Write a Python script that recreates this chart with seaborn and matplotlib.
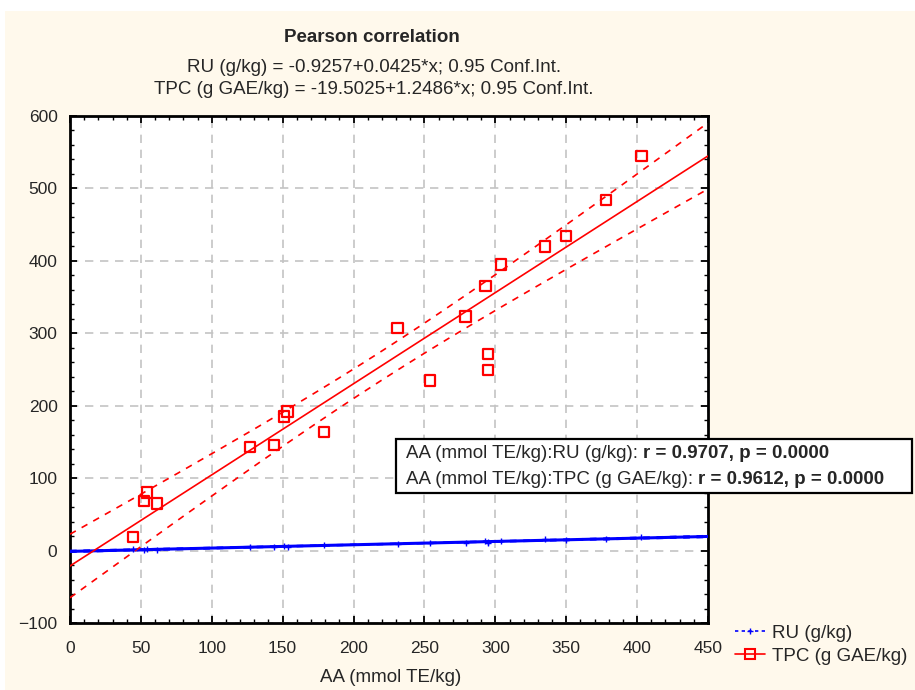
import numpy as np
import pandas as pd
import matplotlib
matplotlib.use("Agg")
import matplotlib.pyplot as plt
import seaborn as sns
from matplotlib.patches import Rectangle
from matplotlib.lines import Line2D
from matplotlib.ticker import MultipleLocator

# ---- data ----
aa = [44.6, 52, 54.5, 61.5, 127, 144, 150.7, 153.5, 179, 231,
      254, 279, 293, 295, 295, 304, 335, 350, 378, 403]
tpc = [19, 68, 80, 65, 143, 146, 185, 192, 164, 307,
       235, 323, 365, 271, 249, 395, 420, 434, 484, 545]
ru = [2.0, 0.5, 2.0, 1.0, 5.5, 4.5, 6.5, 5.0, 8.0, 9.5,
      11.0, 10.5, 13.0, 10.0, 11.5, 13.0, 15.5, 14.0, 16.0, 19.0]

title = "Pearson correlation"
eq_ru = "RU (g/kg) = -0.9257+0.0425*x; 0.95 Conf.Int."
eq_tpc = "TPC (g GAE/kg) = -19.5025+1.2486*x; 0.95 Conf.Int."
corr_lines = [("AA (mmol TE/kg):RU (g/kg): ", "r = 0.9707, p = 0.0000"),
              ("AA (mmol TE/kg):TPC (g GAE/kg): ", "r = 0.9612, p = 0.0000")]
xlabel = "AA (mmol TE/kg)"
series_labels = ["RU (g/kg)", "TPC (g GAE/kg)"]

df = pd.DataFrame({"AA": aa, "TPC": tpc, "RU": ru})

sns.set_style("ticks")
plt.rcParams["font.family"] = ["Liberation Sans", "DejaVu Sans"]

FS = 13.5
cream = "#fff9ec"
fig = plt.figure(figsize=(9.15, 6.9), dpi=100, facecolor="white")
fig.patches.append(Rectangle((5 / 915, 0), 1, 1 - 11 / 690, transform=fig.transFigure,
                             facecolor=cream, edgecolor="none", zorder=-10))
ax = fig.add_axes([70 / 915, 1 - 623 / 690, (708 - 70) / 915, (623 - 116) / 690])
ax.set_facecolor("white")


def fit_band(x, y, grid, t=2.101):
    x = np.asarray(x, float); y = np.asarray(y, float)
    b, a = np.polyfit(x, y, 1)
    n = len(x)
    res = y - (a + b * x)
    s = np.sqrt(np.sum(res ** 2) / (n - 2))
    sxx = np.sum((x - x.mean()) ** 2)
    se = s * np.sqrt(1 / n + (grid - x.mean()) ** 2 / sxx)
    yhat = a + b * grid
    return yhat, yhat - t * se, yhat + t * se


grid = np.linspace(0, 450, 200)
for col, color, lw in [("RU", "#0000ff", 2.2), ("TPC", "#ff0000", 1.2)]:
    yhat, lo, hi = fit_band(df["AA"], df[col], grid)
    sns.lineplot(x=grid, y=yhat, ax=ax, color=color, lw=lw, zorder=3)
    sns.lineplot(x=grid, y=lo, ax=ax, color=color, lw=1.2, ls=(0, (4, 4)), zorder=3)
    sns.lineplot(x=grid, y=hi, ax=ax, color=color, lw=1.2, ls=(0, (4, 4)), zorder=3)

sns.scatterplot(data=df, x="AA", y="RU", ax=ax, marker="+", s=14, color="#0000ff",
                linewidth=1.0, zorder=4)
sns.scatterplot(data=df, x="AA", y="TPC", ax=ax, marker="s", s=55, facecolor="none",
                edgecolor="#ff0000", linewidth=1.6, zorder=4)

ax.set_xlim(0, 450)
ax.set_ylim(-100, 600)
ax.xaxis.set_major_locator(MultipleLocator(50))
ax.xaxis.set_minor_locator(MultipleLocator(10))
ax.yaxis.set_major_locator(MultipleLocator(100))
ax.yaxis.set_minor_locator(MultipleLocator(20))
ax.tick_params(which="both", direction="in", top=True, right=True, color="black")
ax.tick_params(which="major", length=5, width=1.3, labelsize=12.5)
ax.tick_params(axis="x", which="major", pad=13)
ax.tick_params(axis="y", which="major", pad=9)
ax.tick_params(which="minor", length=3, width=1.0)
ax.grid(True, which="major", ls=(0, (5, 4)), color="#c4c4c4", lw=1.2)
ax.set_axisbelow(True)
for sp in ax.spines.values():
    sp.set_linewidth(2)
    sp.set_color("black")
ax.set_xlabel("")
ax.set_ylabel("")

fig.text(372 / 915, 1 - 37 / 690, title, ha="center", va="center", fontsize=FS, fontweight="bold")
fig.text(374 / 915, 1 - 67 / 690, eq_ru, ha="center", va="center", fontsize=FS)
fig.text(374 / 915, 1 - 89 / 690, eq_tpc, ha="center", va="center", fontsize=FS)
fig.text(391 / 915, 1 - 678 / 690, xlabel, ha="center", va="center", fontsize=FS)

# correlation box
fig.patches.append(Rectangle((396 / 915, 1 - 493 / 690), (912 - 396) / 915, (493 - 439) / 690,
                             transform=fig.transFigure, facecolor="white", edgecolor="black",
                             lw=1.6, zorder=20))
for i, (norm, bold) in enumerate(corr_lines):
    ypos = 1 - (453 + i * 26) / 690
    t1 = fig.text(406 / 915, ypos, norm, ha="left", va="center", fontsize=FS, zorder=21)
    fig.canvas.draw()
    bb = t1.get_window_extent()
    x1 = bb.x1 / fig.bbox.width
    fig.text(x1, ypos, bold, ha="left", va="center", fontsize=FS, fontweight="bold", zorder=21)

handles = [Line2D([], [], color="#0000ff", ls=(0, (2, 2)), lw=1.2, marker="+", markersize=4),
           Line2D([], [], color="#ff0000", lw=1.2, marker="s", markersize=7,
                  markerfacecolor="none", markeredgewidth=1.5)]
fig.legend(handles, series_labels, loc="upper left", bbox_to_anchor=(731 / 915, 1 - 621 / 690),
           frameon=False, fontsize=FS, handlelength=1.6, labelspacing=0.3, handletextpad=0.4,
           borderpad=0.2, borderaxespad=0)

fig.savefig("out.png", dpi=100, facecolor=fig.get_facecolor())
